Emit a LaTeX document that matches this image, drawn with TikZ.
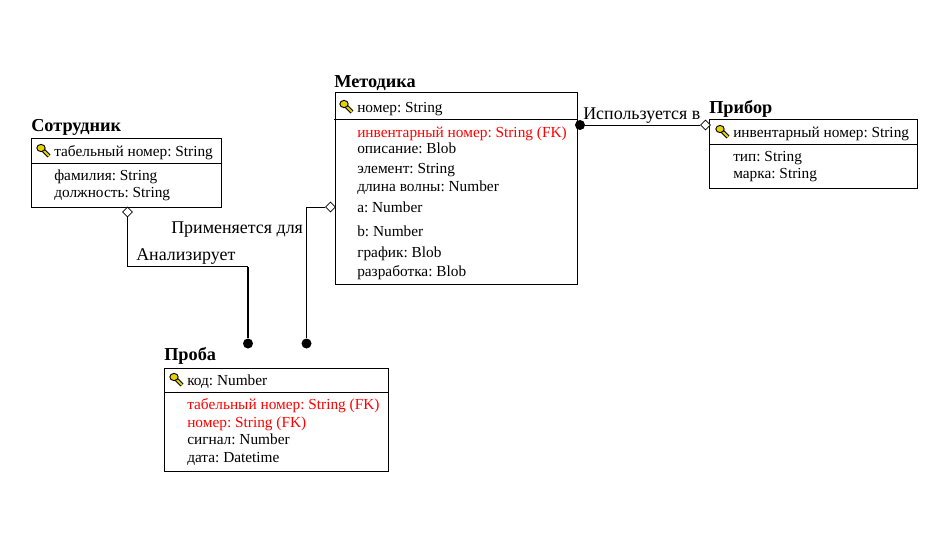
\documentclass[tikz,border=0pt]{standalone}
\usepackage{fontspec}
\usetikzlibrary{shapes.geometric}
\setmainfont{Liberation Serif}
\definecolor{keyyellow}{HTML}{E6D200}
\tikzset{
  box/.style = {draw, line width=0.75pt, inner sep=0pt, anchor=north west},
  title/.style = {anchor=base west, inner sep=0pt, font=\fontsize{13.7}{15}\selectfont\bfseries},
  field/.style = {anchor=base west, inner sep=0pt, font=\fontsize{11.5}{13}\selectfont\frenchspacing},
  fkey/.style = {field, text=red},
  rel/.style = {anchor=base west, inner sep=0pt, font=\fontsize{13.45}{15}\selectfont},
  open/.style = {draw, diamond, fill=white, line width=0.6pt, inner sep=0pt, minimum size=7.5pt},
  solid end/.style = {circle, fill=black, inner sep=0pt, minimum size=7.5pt},
  keyicon/.pic = {
    \draw[line width=3pt, black] (-1,-1) -- (6,6);
    \draw[line width=1.5pt, keyyellow] (-1,-1) -- (6,6);
    \draw[line width=0.7pt, fill=keyyellow] (-2,-2) ellipse (4.2 and 3.6);
  }
}
\begin{document}
\begin{tikzpicture}[x=0.75pt, y=-0.75pt]
      \useasboundingbox (0,0) rectangle (934,535);

      % Sotrudnik
      \node[title] (st) at (31,131) {Сотрудник};
      \node[box, minimum width=142.5pt, minimum height=51.75pt] (sb) at (31,138) {};
      \draw[line width=0.75pt] (sb.west |- 0,163) coordinate (sl) -- (sb.east |- sl);
      \pic at (43,150) {keyicon};
      \node[field] (s1) at (54,156) {табельный номер: String};
      \node[field] (s2) at (54,180) {фамилия: String};
      \node[field] (s3) at (54,197) {должность: String};

      % Metodika
      \node[title] (mt) at (334,87.5) {Методика};
      \node[box, minimum width=181.5pt, minimum height=144pt] (mb) at (335,92) {};
      \draw[line width=0.75pt] (334,119) coordinate (ml) -- (mb.east |- ml);
      \pic at (346,106) {keyicon};
      \node[field] (m1) at (357,113) {номер: String};
      \node[fkey] (m2) at (357,137) {инвентарный номер: String (FK)};
      \node[field] (m3) at (357,153) {описание: Blob};
      \node[field] (m4) at (357,173) {элемент: String};
      \node[field] (m5) at (357,191) {длина волны: Number};
      \node[field] (m6) at (357,212) {a: Number};
      \node[field] (m7) at (357,236) {b: Number};
      \node[field] (m8) at (357,257) {график: Blob};
      \node[field] (m9) at (357,276) {разработка: Blob};

      % Pribor
      \node[title] (pt) at (709,113.5) {Прибор};
      \node[box, minimum width=156pt, minimum height=51.75pt] (pb) at (709,119) {};
      \draw[line width=0.75pt] (pb.west |- 0,144) coordinate (pl) -- (pb.east |- pl);
      \pic at (722,131) {keyicon};
      \node[field] (p1) at (733,137) {инвентарный номер: String};
      \node[field] (p2) at (733,161) {тип: String};
      \node[field] (p3) at (733,178) {марка: String};

      % Proba
      \node[title] (rt) at (164,360.5) {Проба};
      \node[box, minimum width=168pt, minimum height=77.25pt] (rb) at (164,368) {};
      \draw[line width=0.75pt] (rb.west |- 0,392) coordinate (rl) -- (rb.east |- rl);
      \pic at (176,379) {keyicon};
      \node[field] (r1) at (187,385) {код: Number};
      \node[fkey] (r2) at (187,409) {табельный номер: String (FK)};
      \node[fkey] (r3) at (187,427) {номер: String (FK)};
      \node[field] (r4) at (187,444) {сигнал: Number};
      \node[field] (r5) at (187,462) {дата: Datetime};

      % relation ends
      \coordinate (ac) at (127.5,266.5);
      \coordinate (pc) at (306.5,207);
      \node[solid end] (ae) at (248,343.5) {};
      \node[solid end] (pe) at (306.5,343.5) {};
      \node[solid end] (ie) at (580,125) {};
      \node[open] (ad) at (127.5,212) {};
      \node[open] (pd) at (330.5,207) {};
      \node[open] (id) at (705.5,125) {};

      \draw[line width=0.75pt] (ad) -- (ac) -- (ac -| ae) coordinate (ab);
      \draw[line width=1.6pt] (ab) -- (ae);
      \draw[line width=0.75pt] (pd) -- (pc) -- (pe);
      \draw[line width=0.75pt] (ie) -- (id);

      \node[rel] (al) at (136,260) {Анализирует};
      \node[rel] (pr) at (171,233) {Применяется для};
      \node[rel] (il) at (583,119) {Используется в};
\end{tikzpicture}
\end{document}
